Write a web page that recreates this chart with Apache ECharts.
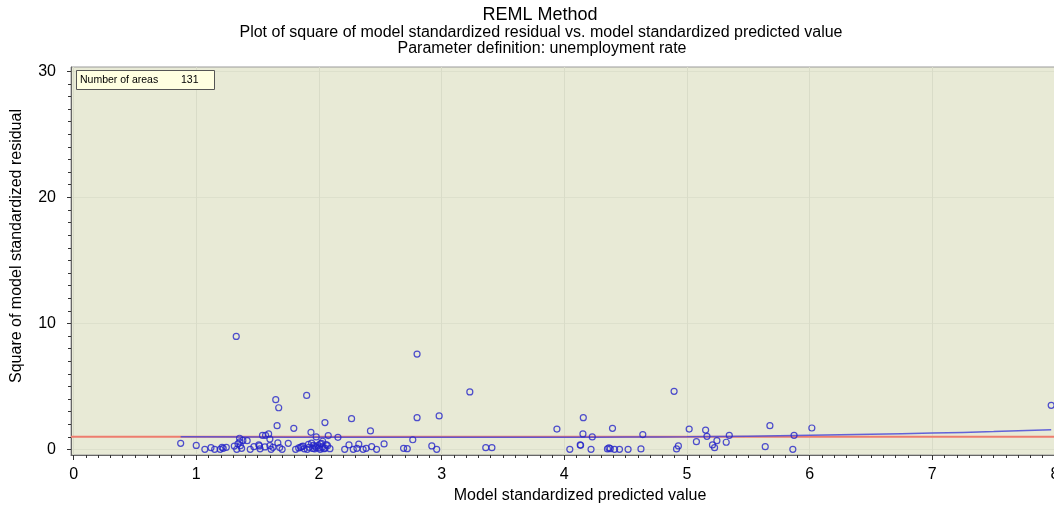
<!DOCTYPE html>
<html>
<head>
<meta charset="utf-8">
<script src="https://cdn.jsdelivr.net/npm/echarts@6/dist/echarts.min.js"></script>
<style>html,body{margin:0;padding:0;background:#fff}#c{width:1054px;height:508px}</style>
</head>
<body>
<div id="c"></div>
<script>
// Predicted values (x) and squared residuals (y)
const predicted = [
  0.873,1.00,1.07,1.12,1.15,1.195,1.21,1.22,1.245,1.31,1.326,1.33,1.353,1.355,1.37,1.38,1.415,1.44,1.47,1.51,
  1.515,1.54,1.565,1.59,1.60,1.61,1.625,1.648,1.665,1.672,1.659,1.70,1.75,1.795,1.81,1.835,1.85,1.87,1.90,1.905,
  1.915,1.935,1.955,1.965,1.978,1.978,2.01,2.02,2.03,2.04,2.049,2.06,2.076,2.09,2.155,2.21,2.245,2.266,2.28,2.31,
  2.325,2.36,2.385,2.42,2.43,2.47,2.531,
  2.69,2.72,2.765,2.80,2.80,2.92,2.96,2.98,3.23,3.36,3.41,3.94,4.045,4.13,4.133,4.155,4.152,4.228,4.218,
  4.352,4.364,4.375,4.393,4.41,4.45,4.52,4.625,4.64,4.895,4.915,4.93,5.018,5.077,5.152,5.163,
  5.208,5.225,5.244,5.32,5.345,5.638,5.676,5.863,5.873,6.018,7.969,
  1.86,1.88,1.92,1.94,1.95,1.97,1.99,2.00,2.01,2.03,2.05,2.07,1.34,1.36,1.52,1.56,1.60,1.68
];
const residualSq = [
  0.49,0.32,0.01,0.14,0.01,0.01,0.17,0.09,0.17,0.27,8.97,0.01,0.89,0.60,0.09,0.72,0.70,0.01,0.22,0.36,
  0.28,1.12,1.12,1.23,0.83,0.01,0.17,3.95,0.52,3.31,1.89,0.01,0.49,1.68,0.01,0.12,0.17,0.27,4.29,0.01,
  0.41,1.36,0.33,0.04,0.99,0.14,0.01,0.49,0.65,0.06,2.13,0.38,1.10,0.06,0.96,0.01,0.36,2.44,0.01,0.09,
  0.43,0.01,0.09,1.47,0.22,0.01,0.44,
  0.09,0.06,0.77,7.57,2.52,0.28,0.01,2.66,4.56,0.14,0.14,1.62,0.01,0.36,0.33,2.52,1.23,0.99,0.01,
  0.04,0.12,0.06,1.68,0.01,0.01,0.01,0.04,1.18,4.61,0.04,0.28,1.62,0.62,1.54,1.04,
  0.36,0.14,0.70,0.57,1.12,0.22,1.89,0.01,1.12,1.70,3.50,
  0.22,0.05,0.17,0.50,0.08,0.25,0.30,0.12,0.45,0.20,0.10,0.30,0.45,0.30,0.05,0.20,0.30,0.15
];
// Smoothed (loess) curve
const smoothX = [0.873,1.5,2.0,2.5,3.0,3.5,4.0,4.5,5.0,5.5,6.0,6.5,7.0,7.5,7.969];
const smoothY = [1.00,0.98,0.97,0.96,0.96,0.96,0.97,0.98,1.00,1.05,1.12,1.20,1.30,1.42,1.57];
const refY = 1;
const xTicks = [0,1,2,3,4,5,6,7,8];
const yTicks = [0,10,20,30];
const nAreas = 131;

const xMinor = []; for (let i = 0; i <= 80; i++) xMinor.push(i / 10);
const yMinor = []; for (let i = 0; i <= 30; i++) yMinor.push(i);

const pts = predicted.map((x, i) => [x, residualSq[i]]);
const smooth = smoothX.map((x, i) => [x, smoothY[i]]);

const chart = echarts.init(document.getElementById('c'));
const FONT = 'Liberation Sans, Arial, sans-serif';
chart.setOption({
  animation: false,
  grid: { left: 71, top: 67, right: -1, bottom: 53, show: true, outerBoundsMode: 'none', containLabel: false,
          backgroundColor: '#E8EAD6', borderColor: '#9A9A9A', borderWidth: 1 },
  xAxis: [{
    type: 'value', min: -0.021, max: 8,
    axisLine: { show: true, onZero: false, lineStyle: { color: '#666' } },
    axisTick: { show: true, customValues: xTicks, length: 5, lineStyle: { color: '#333' } },
    axisLabel: { customValues: xTicks, margin: 12, color: '#000', fontSize: 16, fontFamily: FONT,
                 hideOverlap: false, showMaxLabel: true, showMinLabel: true },
    splitLine: { show: true, lineStyle: { color: '#D9DCC8', width: 1 } }
  }, {
    type: 'value', min: -0.021, max: 8, position: 'bottom',
    axisLine: { show: false, onZero: false },
    axisTick: { show: true, customValues: xMinor, length: 3, lineStyle: { color: '#333' } },
    axisLabel: { show: false }, splitLine: { show: false }
  }],
  yAxis: [{
    type: 'value', min: -0.44, max: 30.34,
    axisLine: { show: true, onZero: false, lineStyle: { color: '#666' } },
    axisTick: { show: true, customValues: yTicks, length: 4, lineStyle: { color: '#333' } },
    axisLabel: { customValues: yTicks, margin: 15, color: '#000', fontSize: 16, fontFamily: FONT },
    splitLine: { show: true, lineStyle: { color: '#DDE0CC', width: 1 } }
  }, {
    type: 'value', min: -0.44, max: 30.34, position: 'left',
    axisLine: { show: false, onZero: false },
    axisTick: { show: true, customValues: yMinor, length: 3, lineStyle: { color: '#333' } },
    axisLabel: { show: false }, splitLine: { show: false }
  }],
  series: [{
    type: 'line', data: [[-0.021, refY], [8, refY]], showSymbol: false, symbol: 'none',
    lineStyle: { color: '#EE7C6E', width: 2 }, z: 2, silent: true
  }, {
    type: 'line', data: smooth, showSymbol: false, symbol: 'none', smooth: true,
    lineStyle: { color: '#4A4AD8', width: 1.5, opacity: 0.85 }, z: 3, silent: true
  }, {
    type: 'scatter', data: pts, symbol: 'circle', symbolSize: 6,
    itemStyle: { color: 'rgba(0,0,0,0)', borderColor: '#2424C8', borderWidth: 1.2 }, z: 4
  }],
  graphic: [
    { type: 'text', x: 540, y: 15, style: { text: 'REML Method', font: '18px ' + FONT, fill: '#000', align: 'center', verticalAlign: 'middle' }, z: 10 },
    { type: 'text', x: 541, y: 33, style: { text: 'Plot of square of model standardized residual vs. model standardized predicted value', font: '16px ' + FONT, fill: '#000', align: 'center', verticalAlign: 'middle' }, z: 10 },
    { type: 'text', x: 542, y: 49, style: { text: 'Parameter definition: unemployment rate', font: '16px ' + FONT, fill: '#000', align: 'center', verticalAlign: 'middle' }, z: 10 },
    { type: 'text', x: 580, y: 496, style: { text: 'Model standardized predicted value', font: '16px ' + FONT, fill: '#000', align: 'center', verticalAlign: 'middle' }, z: 10 },
    { type: 'text', x: 17, y: 246, rotation: Math.PI / 2, style: { text: 'Square of model standardized residual', font: '16px ' + FONT, fill: '#000', align: 'center', verticalAlign: 'middle' }, z: 10 },
    { type: 'rect', shape: { x: 76.5, y: 70.5, width: 138, height: 19 }, style: { fill: '#FFFFE1', stroke: '#555', lineWidth: 1 }, z: 10 },
    { type: 'text', x: 80, y: 80.5, style: { text: 'Number of areas', font: '10.5px ' + FONT, fill: '#000', verticalAlign: 'middle' }, z: 11 },
    { type: 'text', x: 181, y: 80.5, style: { text: String(nAreas), font: '10.5px ' + FONT, fill: '#000', verticalAlign: 'middle' }, z: 11 }
  ]
});
</script>
</body>
</html>
